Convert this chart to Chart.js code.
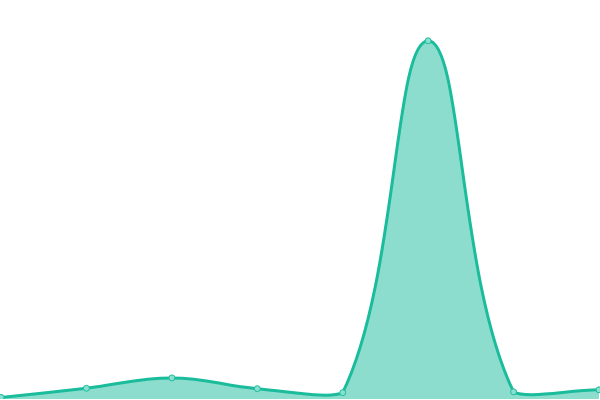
<!DOCTYPE html>
<html>
<head>
<meta charset="utf-8">
<script src="https://cdn.jsdelivr.net/npm/chart.js@4"></script>
<style>
  html, body { margin: 0; padding: 0; background: #fff; }
  #outer { width: 600px; height: 400px; overflow: hidden; position: relative; }
  /* chart.js keeps ~4px for the point overflow, so push the canvas out by that much */
  #wrap { position: absolute; left: -4px; top: -4px; width: 608px; height: 408px; }
</style>
</head>
<body>
<div id="outer"><div id="wrap"><canvas id="chart"></canvas></div></div>
<script>
// values (axis hidden, 0..100)
const labels = ['1', '2', '3', '4', '5', '6', '7', '8'];
const values = [0.4, 2.7, 5.3, 2.6, 1.6, 90, 1.8, 2.3];

const ctx = document.getElementById('chart').getContext('2d');

const myChart = new Chart(ctx, {
  type: 'line',
  data: {
    labels: labels,
    datasets: [{
      data: values,
      borderColor: '#1abc9c',
      backgroundColor: 'rgba(26, 188, 156, 0.5)',
      pointBackgroundColor: '#8ae0d0',
      pointBorderColor: '#1abc9c',
      pointRadius: 3,
      pointBorderWidth: 1,
      borderWidth: 3,
      tension: 0.4,
      fill: true
    }]
  },
  options: {
    responsive: true,
    maintainAspectRatio: false,
    animation: false,
    layout: { padding: 0 },
    plugins: { legend: { display: false }, tooltip: { enabled: false } },
    scales: {
      x: { display: false },
      y: { display: false, min: 0, max: 100 }
    }
  }
});
</script>
</body>
</html>
